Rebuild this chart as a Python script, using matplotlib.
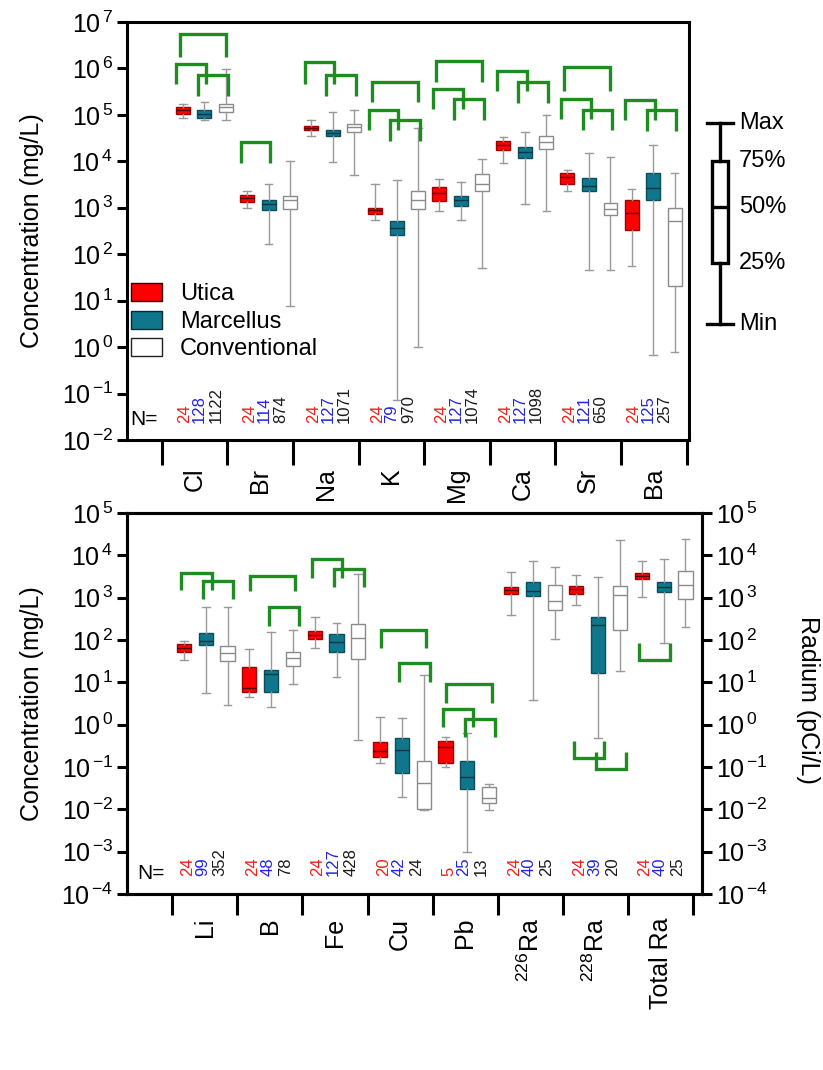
import numpy as np
import matplotlib
matplotlib.use('Agg')
import matplotlib.pyplot as plt
from matplotlib.patches import Patch
from matplotlib.ticker import FixedLocator, FixedFormatter, FuncFormatter, NullLocator, NullFormatter

plt.rcParams['font.family'] = ['Liberation Sans', 'DejaVu Sans']
plt.rcParams['mathtext.fontset'] = 'custom'
plt.rcParams['mathtext.rm'] = 'Liberation Sans'
plt.rcParams['mathtext.it'] = 'Liberation Sans:italic'
plt.rcParams['mathtext.bf'] = 'Liberation Sans:bold'

# ---------------- dados do painel superior (mg/L) ----------------
top_cats = ['Cl', 'Br', 'Na', 'K', 'Mg', 'Ca', 'Sr', 'Ba']

utica_top_min = [8.7e4, 1.0e3, 3.5e4, 5.4e2, 8.5e2, 9.4e3, 2.3e3, 56]
utica_top_q1 = [1.07e5, 1.35e3, 4.7e4, 7.5e2, 1.4e3, 1.74e4, 3.3e3, 3.3e2]
utica_top_med = [1.26e5, 1.6e3, 5.1e4, 8.9e2, 2.1e3, 2.2e4, 4.6e3, 7.9e2]
utica_top_q3 = [1.5e5, 1.85e3, 5.7e4, 1.0e3, 2.8e3, 2.75e4, 5.5e3, 1.5e3]
utica_top_max = [1.7e5, 2.3e3, 7.6e4, 3.2e3, 4.1e3, 3.35e4, 6.4e3, 2.6e3]

marc_top_min = [7.6e4, 1.7e2, 9.8e3, 0.072, 5.4e2, 1.2e3, 46, 0.69]
marc_top_q1 = [8.7e4, 8.9e2, 3.5e4, 2.6e2, 1.1e3, 1.2e4, 2.3e3, 1.45e3]
marc_top_med = [1.02e5, 1.2e3, 4.1e4, 3.6e2, 1.45e3, 1.55e4, 2.9e3, 2.7e3]
marc_top_q3 = [1.3e5, 1.5e3, 4.7e4, 5.1e2, 1.8e3, 2.0e4, 4.4e3, 5.5e3]
marc_top_max = [1.93e5, 3.3e3, 1.15e5, 3.9e3, 3.6e3, 4.3e4, 1.5e4, 2.2e4]

conv_top_min = [7.6e4, 7.8, 5.0e3, 1.0, 51, 8.5e2, 46, 0.79]
conv_top_q1 = [1.15e5, 9.2e2, 4.3e4, 9.6e2, 2.3e3, 1.8e4, 6.9e2, 21]
conv_top_med = [1.48e5, 1.44e3, 5.5e4, 1.45e3, 3.3e3, 2.6e4, 9.4e2, 5.2e2]
conv_top_q3 = [1.74e5, 1.8e3, 6.5e4, 2.3e3, 5.3e3, 3.5e4, 1.26e3, 1.0e3]
conv_top_max = [9.6e5, 1.04e4, 1.3e5, 5.2e4, 1.15e4, 1.0e5, 1.25e4, 5.6e3]

utica_top_n = [24, 24, 24, 24, 24, 24, 24, 24]
marc_top_n = [128, 114, 127, 79, 127, 127, 121, 125]
conv_top_n = [1122, 874, 1071, 970, 1074, 1098, 650, 257]

# colchetes de significancia: categoria, caixa inicial, caixa final, barra, ponta
top_br_cat = [0, 0, 0, 1, 2, 2, 3, 3, 3, 4, 4, 4, 5, 5, 6, 6, 6, 7, 7]
top_br_a = [0, 0, 1, 0, 0, 1, 0, 0, 1, 0, 0, 1, 0, 1, 0, 0, 1, 0, 1]
top_br_b = [2, 1, 2, 1, 1, 2, 2, 1, 2, 2, 1, 2, 1, 2, 2, 1, 2, 1, 2]
top_br_bar = [5.6e6, 1.26e6, 7.4e5, 2.6e4, 1.38e6, 7.1e5, 5.1e5, 1.29e5, 7.6e4,
              1.48e6, 3.6e5, 2.2e5, 8.7e5, 5.1e5, 1.07e6, 2.2e5, 1.29e5, 2.1e5, 1.26e5]
top_br_leg = [1.8e6, 4.6e5, 2.6e5, 9.3e3, 4.6e5, 2.5e5, 1.9e5, 4.7e4, 2.7e4,
              5.2e5, 1.35e5, 7.9e4, 3.2e5, 1.8e5, 3.2e5, 8.1e4, 4.7e4, 7.9e4, 4.5e4]

# ---------------- dados do painel inferior (mg/L e pCi/L) ----------------
bot_cats = ['Li', 'B', 'Fe', 'Cu', 'Pb', r'$\mathregular{^{226}}$Ra', r'$\mathregular{^{228}}$Ra', 'Total Ra']

utica_bot_min = [33, 4.6, 66, 0.126, 0.098, 400, 660, 1.05e3]
utica_bot_q1 = [53, 6.0, 103, 0.176, 0.126, 1.19e3, 1.19e3, 2.7e3]
utica_bot_med = [63, 7.2, 130, 0.24, 0.29, 1.5e3, 1.58e3, 3.2e3]
utica_bot_q3 = [79, 22.6, 166, 0.38, 0.41, 1.8e3, 1.86e3, 3.9e3]
utica_bot_max = [96, 60, 355, 1.55, 0.52, 4.1e3, 3.5e3, 7.5e3]

marc_bot_min = [5.7, 2.6, 13.5, 0.020, 0.001, 3.8, 0.49, 83]
marc_bot_q1 = [76, 5.9, 53, 0.071, 0.030, 1.08e3, 17, 1.33e3]
marc_bot_med = [96, 15.7, 92, 0.25, 0.059, 1.42e3, 225, 1.8e3]
marc_bot_q3 = [150, 20, 138, 0.48, 0.14, 2.3e3, 355, 2.4e3]
marc_bot_max = [600, 155, 258, 1.46, 0.63, 7.2e3, 3.0e3, 8.2e3]

conv_bot_min = [2.9, 9.1, 0.44, 0.0098, 0.0098, 105, 18.6, 198]
conv_bot_q1 = [32, 24.6, 35, 0.0100, 0.0145, 525, 170, 920]
conv_bot_med = [50, 37, 113, 0.043, 0.019, 820, 1.18e3, 1.95e3]
conv_bot_q3 = [72, 53, 234, 0.138, 0.033, 1.95e3, 1.86e3, 4.3e3]
conv_bot_max = [600, 176, 3.7e3, 14.8, 0.039, 5.2e3, 2.35e4, 2.45e4]

utica_bot_n = [24, 24, 24, 20, 5, 24, 24, 24]
marc_bot_n = [99, 48, 127, 42, 25, 40, 39, 40]
conv_bot_n = [352, 78, 428, 24, 13, 25, 20, 25]

bot_br_cat = [0, 0, 1, 1, 2, 2, 3, 3, 4, 4, 4, 6, 6, 7]
bot_br_a = [0, 1, 0, 1, 0, 1, 0, 1, 0, 0, 1, 0, 1, 0]
bot_br_b = [1, 2, 2, 2, 1, 2, 2, 2, 2, 1, 2, 1, 2, 1]
bot_br_bar = [3.9e3, 2.45e3, 3.2e3, 600, 8.1e3, 4.7e3, 170, 28, 9.1, 2.3, 1.35, 0.166, 0.090, 33.5]
bot_br_leg = [1.5e3, 912, 1.4e3, 214, 2.95e3, 1.74e3, 66, 10.2, 3.3, 0.87, 0.50, 0.41, 0.23, 83]

# legenda esquematica (Min, 25%, 50%, 75%, Max)
key_levels = [0, 61, 117, 163, 201]
key_labels = ['Min', '25%', '50%', '75%', 'Max']

# ---------------- estilos ----------------
COR_UTICA = '#FF0000'
COR_MARC = '#0F768C'
COR_VERDE = '#1E8C1E'
COR_CINZA = '#9a9a9a'
LW_EIXO = 2.2


def rotulo_log(v, pos):
    return r'$\mathregular{10^{\,{%d}}}$' % int(round(np.log10(v)))


def desenhar_caixas(ax, pos, mins, q1s, meds, q3s, maxs, face, edge, med_cor):
    stats = [dict(whislo=a, q1=b, med=c, q3=d, whishi=e)
             for a, b, c, d, e in zip(mins, q1s, meds, q3s, maxs)]
    ax.bxp(stats, positions=pos, widths=0.65, capwidths=0.36, patch_artist=True,
           showfliers=False, manage_ticks=False,
           boxprops=dict(facecolor=face, edgecolor=edge, linewidth=1.0),
           medianprops=dict(color=med_cor, linewidth=1.0),
           whiskerprops=dict(color=COR_CINZA, linewidth=1.0),
           capprops=dict(color=COR_CINZA, linewidth=1.0))


def desenhar_colchetes(ax, cats, aa, bb, barras, pontas, passo, adj, ext):
    for c, a, b, bar, leg in zip(cats, aa, bb, barras, pontas):
        pa = c * passo + a
        pb = c * passo + b
        off = adj if b - a == 1 else ext
        xl, xr = pa + off[0], pb + off[1]
        ax.plot([xl, xl, xr, xr], [leg, bar, bar, leg], color=COR_VERDE,
                lw=2.4, solid_joinstyle='miter', solid_capstyle='butt', zorder=5)


def formatar_eixo(ax, ymin_exp, ymax_exp, seps, centros, cats, tick_len, pad_cat):
    ax.set_yscale('log')
    ax.set_ylim(10.0 ** ymin_exp, 10.0 ** ymax_exp)
    ax.yaxis.set_major_locator(FixedLocator(10.0 ** np.arange(ymin_exp, ymax_exp + 1)))
    ax.yaxis.set_major_formatter(FuncFormatter(rotulo_log))
    ax.yaxis.set_minor_locator(NullLocator())
    ax.tick_params(axis='y', which='major', length=7, width=LW_EIXO, labelsize=18, pad=3)
    ax.xaxis.set_major_locator(FixedLocator(seps))
    ax.xaxis.set_major_formatter(NullFormatter())
    ax.xaxis.set_minor_locator(FixedLocator(centros))
    ax.xaxis.set_minor_formatter(FixedFormatter(cats))
    ax.tick_params(axis='x', which='major', length=tick_len, width=LW_EIXO, direction='out')
    ax.tick_params(axis='x', which='minor', length=0, pad=pad_cat, labelsize=18, labelrotation=90)
    for s in ax.spines.values():
        s.set_linewidth(LW_EIXO)


def painel(ax, cats, dados, ns, brs, passo, sep0, sep_passo, xlim, n_off, n_y, ylims,
           tick_len, pad_cat, adj, ext, n_eq):
    g = np.arange(len(cats))
    cores = [(COR_UTICA, '#A00000', '#5a0000'),
             (COR_MARC, '#0A4E5E', '#0A3440'),
             ('white', '#8a8a8a', '#8a8a8a')]
    for m, (d, (face, edge, medc)) in enumerate(zip(dados, cores)):
        desenhar_caixas(ax, g * passo + m, *d, face, edge, medc)
    desenhar_colchetes(ax, *brs, passo, adj, ext)

    seps = sep0 + np.arange(len(cats) + 1) * sep_passo
    centros = (seps[:-1] + seps[1:]) / 2
    ax.set_xlim(*xlim)
    formatar_eixo(ax, ylims[0], ylims[1], seps, centros, cats, tick_len, pad_cat)

    # numero de amostras
    for k, (vals, cor) in enumerate(zip(ns, ['#F01E1E', '#2424E0', '#1a1a1a'])):
        for gi, v in enumerate(vals):
            ax.text(gi * passo + n_off[0] + n_off[1][k], n_y, str(v), color=cor, fontsize=12,
                    rotation=90, rotation_mode='anchor', ha='left', va='center')
    ax.text(n_eq[0], n_eq[1], 'N=', fontsize=15, ha='left', va='center')


fig = plt.figure(figsize=(8.23, 10.70), dpi=100)

# painel superior
ax1 = fig.add_axes([127 / 823, 1 - 440 / 1070, 562 / 823, 418 / 1070])
painel(ax1, top_cats,
       [(utica_top_min, utica_top_q1, utica_top_med, utica_top_q3, utica_top_max),
        (marc_top_min, marc_top_q1, marc_top_med, marc_top_q3, marc_top_max),
        (conv_top_min, conv_top_q1, conv_top_med, conv_top_q3, conv_top_max)],
       [utica_top_n, marc_top_n, conv_top_n],
       (top_br_cat, top_br_a, top_br_b, top_br_bar, top_br_leg),
       passo=2.98, sep0=-0.98, sep_passo=3.05, xlim=(-2.6, 23.53),
       n_off=(0.1, [0, 0.68, 1.45]), n_y=0.023, ylims=(-2, 7),
       tick_len=18, pad_cat=20, adj=(-0.30, 0.08), ext=(-0.14, -0.02),
       n_eq=(-2.45, 0.028))
ax1.set_ylabel('Concentration (mg/L)', fontsize=18)
ax1.yaxis.set_label_coords(-0.148, 0.5)

leg = ax1.legend(handles=[Patch(facecolor=COR_UTICA, edgecolor='#300000', lw=1, label='Utica'),
                          Patch(facecolor=COR_MARC, edgecolor='#052a33', lw=1, label='Marcellus'),
                          Patch(facecolor='white', edgecolor='#222222', lw=1, label='Conventional')],
                 loc='upper left', bbox_to_anchor=(0.008, 0.375), frameon=False, fontsize=17,
                 handlelength=1.3, handleheight=0.8, handletextpad=0.75, labelspacing=0.22,
                 borderpad=0, borderaxespad=0)

# painel inferior
ax2 = fig.add_axes([127 / 823, 1 - 894 / 1070, 575 / 823, 381 / 1070])
painel(ax2, bot_cats,
       [(utica_bot_min, utica_bot_q1, utica_bot_med, utica_bot_q3, utica_bot_max),
        (marc_bot_min, marc_bot_q1, marc_bot_med, marc_bot_q3, marc_bot_max),
        (conv_bot_min, conv_bot_q1, conv_bot_med, conv_bot_q3, conv_bot_max)],
       [utica_bot_n, marc_bot_n, conv_bot_n],
       (bot_br_cat, bot_br_a, bot_br_b, bot_br_bar, bot_br_leg),
       passo=3.0, sep0=-0.55, sep_passo=2.99, xlim=(-2.61, 23.76),
       n_off=(0.15, [0, 0.7, 1.5]), n_y=2.6e-4, ylims=(-4, 5),
       tick_len=15, pad_cat=17, adj=(-0.12, 0.27), ext=(0.02, 0.11),
       n_eq=(-2.16, 3.0e-4))
ax2.set_ylabel('Concentration (mg/L)', fontsize=18)
ax2.yaxis.set_label_coords(-0.144, 0.5)

ax2r = ax2.twinx()
ax2r.set_yscale('log')
ax2r.set_ylim(ax2.get_ylim())
ax2r.yaxis.set_major_locator(FixedLocator(10.0 ** np.arange(-4, 6)))
ax2r.yaxis.set_major_formatter(FuncFormatter(rotulo_log))
ax2r.yaxis.set_minor_locator(NullLocator())
ax2r.tick_params(axis='y', which='major', length=7, width=LW_EIXO, labelsize=18, pad=3)
for s in ax2r.spines.values():
    s.set_linewidth(LW_EIXO)
fig.text(808 / 823, 1 - 700 / 1070, 'Radium (pCi/L)', rotation=270, fontsize=18,
         ha='center', va='center')

# legenda esquematica das caixas
key = fig.add_axes([700 / 823, 1 - 330 / 1070, 40 / 823, 213 / 1070])
key.axis('off')
key.set_xlim(-20, 20)
key.set_ylim(-6, 207)
key.bxp([dict(whislo=key_levels[0], q1=key_levels[1], med=key_levels[2],
              q3=key_levels[3], whishi=key_levels[4])],
        positions=[0], widths=16, capwidths=26, patch_artist=True, showfliers=False,
        manage_ticks=False,
        boxprops=dict(facecolor='white', edgecolor='black', linewidth=2.4),
        medianprops=dict(color='black', linewidth=2.4),
        whiskerprops=dict(color='black', linewidth=2.4),
        capprops=dict(color='black', linewidth=2.4))
for lvl, lab in zip(key_levels, key_labels):
    key.text(19, lvl, lab, fontsize=17, ha='left', va='center', clip_on=False)

fig.savefig('out.png', dpi=100)
